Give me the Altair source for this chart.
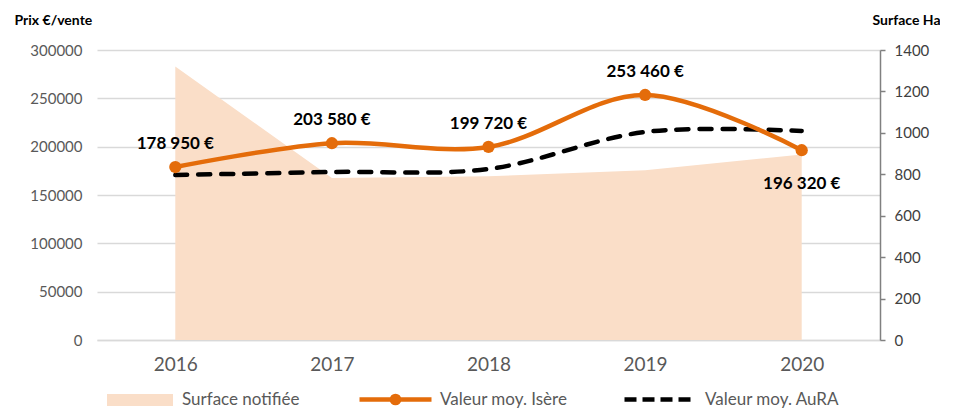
import altair as alt
import pandas as pd

years = ["2016", "2017", "2018", "2019", "2020"]
surface_ha = [1320, 782, 790, 820, 895]
valeur_isere = [178950, 203580, 199720, 253460, 196320]
valeur_aura = [170700, 173800, 176900, 215200, 216200]
labels_below_years = ["2020"]

name_surface = "Surface notifiée"
name_isere = "Valeur moy. Isère"
name_aura = "Valeur moy. AuRA"

df = pd.DataFrame({"year": years, "surface": surface_ha, "isere": valeur_isere, "aura": valeur_aura})
df["label"] = [f"{v:,}".replace(",", " ") + " €" for v in valeur_isere]
df["below"] = df["year"].isin(labels_below_years)
df["s_name"] = name_surface
df["i_name"] = name_isere
df["a_name"] = name_aura

FONT = "Lato"
ORANGE = "#E46C0A"
PEACH = "#FADEC8"
GREY = "#595959"

x_enc = alt.X(
    "year:O",
    scale=alt.Scale(type="point", padding=0.5),
    axis=alt.Axis(title=None, labelAngle=0, ticks=False, domainColor="#D9D9D9", domainWidth=1.5,
                  labelColor=GREY, labelFontSize=19, labelPadding=15, labelFont=FONT, grid=False),
)

left_axis = alt.Axis(
    orient="left", values=[0, 50000, 100000, 150000, 200000, 250000, 300000], format="d",
    grid=True, gridColor="#D9D9D9", gridWidth=1.5, domain=False, ticks=False,
    labelColor=GREY, labelFontSize=15, labelPadding=15, labelFont=FONT,
    title="Prix €/vente", titleAngle=0, titleX=-83, titleY=-26, titleAlign="left",
    titleBaseline="alphabetic", titleFont=FONT, titleFontSize=14, titleFontWeight="bold", titleColor="#000000",
)
left_scale = alt.Scale(domain=[0, 300000])

area = alt.Chart(df).mark_area(interpolate="linear", opacity=1).encode(
    x=x_enc,
    y=alt.Y("surface:Q", scale=alt.Scale(domain=[0, 1400]),
            axis=alt.Axis(orient="right", values=list(range(0, 1401, 200)), format="d", grid=False,
                          domainColor="#808080", domainWidth=1.5, tickColor="#808080", tickWidth=1.5, tickSize=5,
                          labelColor="#404040", labelFontSize=15, labelPadding=9, labelFont=FONT,
                          title="Surface Ha", titleAngle=0, titleX=-8, titleY=-26, titleAlign="left",
                          titleBaseline="alphabetic", titleFont=FONT, titleFontSize=14,
                          titleFontWeight="bold", titleColor="#000000")),
    color=alt.Color("s_name:N", scale=alt.Scale(domain=[name_surface], range=[PEACH]),
                    legend=alt.Legend(title=None, orient="none", legendX=10, legendY=317,
                                      symbolType="M-1,-0.18H1V0.18H-1Z", symbolSize=4356, symbolStrokeWidth=0,
                                      labelOffset=9, labelFont=FONT, labelFontSize=17, labelColor=GREY, padding=0)),
)

isere_line = alt.Chart(df).mark_line(interpolate="catmull-rom", strokeWidth=4.5).encode(
    x=x_enc,
    y=alt.Y("isere:Q", scale=left_scale, axis=left_axis),
    color=alt.Color("i_name:N", scale=alt.Scale(domain=[name_isere], range=[ORANGE]),
                    legend=alt.Legend(title=None, orient="none", legendX=260, legendY=311,
                                      symbolType="M-1,0H1M0.1,0A0.1,0.1,0,1,1,-0.1,0A0.1,0.1,0,1,1,0.1,0",
                                      symbolSize=5184, symbolStrokeWidth=4.5, symbolFillColor=ORANGE,
                                      labelOffset=6, labelFont=FONT, labelFontSize=17, labelColor=GREY, padding=0)),
)

isere_points = alt.Chart(df).mark_circle(size=150, color=ORANGE, opacity=1).encode(
    x=x_enc,
    y=alt.Y("isere:Q", scale=left_scale, axis=left_axis),
)

aura_line = alt.Chart(df).mark_line(interpolate="catmull-rom", strokeWidth=4.5, strokeDash=[12, 11],
                                    strokeCap="round").encode(
    x=x_enc,
    y=alt.Y("aura:Q", scale=left_scale, axis=left_axis),
    color=alt.Color("a_name:N", scale=alt.Scale(domain=[name_aura], range=["#000000"]),
                    legend=alt.Legend(title=None, orient="none", legendX=525, legendY=311,
                                      symbolType="stroke", symbolSize=5184, symbolStrokeWidth=4.5,
                                      symbolDash=[12, 6],
                                      labelOffset=6, labelFont=FONT, labelFontSize=17, labelColor=GREY, padding=0)),
)

labels_above = alt.Chart(df).transform_filter("!datum.below").mark_text(
    font=FONT, fontWeight="bold", fontSize=17, color="#000000", dy=-18, baseline="alphabetic"
).encode(x=x_enc, y=alt.Y("isere:Q", scale=left_scale, axis=left_axis), text="label:N")

labels_below = alt.Chart(df).transform_filter("datum.below").mark_text(
    font=FONT, fontWeight="bold", fontSize=17, color="#000000", dy=26, baseline="top"
).encode(x=x_enc, y=alt.Y("isere:Q", scale=left_scale, axis=left_axis), text="label:N")

left = alt.layer(aura_line, isere_line, isere_points, labels_above, labels_below).resolve_scale(color="independent")

chart = alt.layer(area, left).resolve_scale(y="independent", color="independent").properties(
    width=783, height=290,
    padding={"left": 89, "top": 42, "right": 60, "bottom": 69},
    autosize=alt.AutoSizeParams(type="none"),
).configure_view(stroke=None)

chart.save("out.html", embed_options={"renderer": "svg", "actions": False})
